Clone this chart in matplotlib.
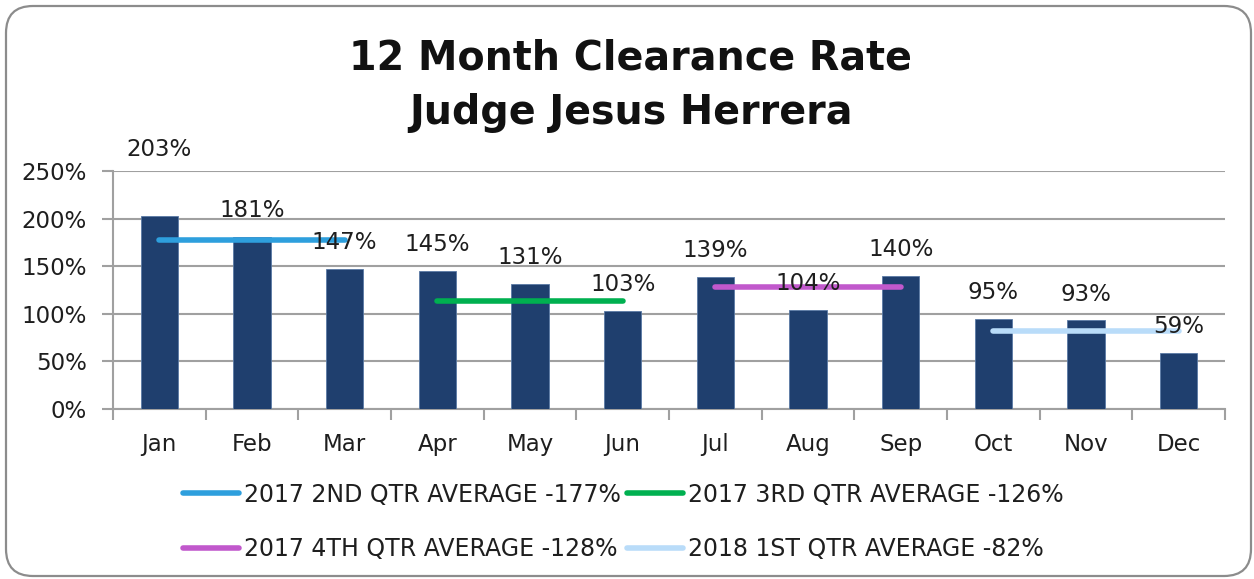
import matplotlib
matplotlib.use("Agg")
import matplotlib.pyplot as plt
import numpy as np
from matplotlib.patches import FancyBboxPatch
from matplotlib.lines import Line2D

months = ["Jan", "Feb", "Mar", "Apr", "May", "Jun", "Jul", "Aug", "Sep", "Oct", "Nov", "Dec"]
rates = [203, 181, 147, 145, 131, 103, 139, 104, 140, 95, 93, 59]

avg_labels = ["2017 2ND QTR AVERAGE -177%", "2017 3RD QTR AVERAGE -126%",
              "2017 4TH QTR AVERAGE -128%", "2018 1ST QTR AVERAGE -82%"]
avg_values = [177, 113, 128, 82]
avg_spans = [("Jan", "Mar"), ("Apr", "Jun"), ("Jul", "Sep"), ("Oct", "Dec")]
avg_colors = ["#2E9FDD", "#00B050", "#C158CC", "#B9DCF9"]

yticks = [0, 50, 100, 150, 200, 250]

W, H = 1254, 579
fig = plt.figure(figsize=(W / 100, H / 100), dpi=100)
plt.rcParams['font.family'] = ['DejaVu Sans']

# rounded outer border
border = FancyBboxPatch((6 / 100, 3 / 100), (W - 9) / 100, (H - 9) / 100,
                        boxstyle="round,pad=0,rounding_size=0.27",
                        transform=fig.dpi_scale_trans, facecolor="none",
                        edgecolor="#8C8C8C", linewidth=1.6, zorder=-1)
fig.patches.append(border)

ax = fig.add_axes([113 / W, 1 - 409 / H, (1225 - 113) / W, (409 - 171) / H])
ax.set_facecolor("none")

x = np.arange(len(months))
ax.bar(x, rates, width=0.4, color="#1F3F6E", edgecolor="#5A7AA5", linewidth=0.6, zorder=3)

grid_c = "#A0A0A0"
txt_c = "#1E1E1E"
fs = 16.5
ax.set_ylim(0, 250)
ax.set_xlim(-0.5, len(months) - 0.5)
ax.set_yticks(yticks)
ax.set_yticklabels([f"{v}%" for v in yticks], fontsize=fs, color=txt_c)
ax.yaxis.grid(True, color=grid_c, linewidth=1.5, zorder=0)
ax.set_axisbelow(True)
ax.tick_params(axis="y", length=8, width=1.5, color=grid_c, pad=11)

ax.set_xticks(x)
ax.set_xticklabels(months, fontsize=fs, color=txt_c)
ax.tick_params(axis="x", which="major", length=0, pad=17)
ax.set_xticks(np.arange(-0.5, len(months), 1), minor=True)
ax.tick_params(axis="x", which="minor", length=8, width=1.5, color=grid_c)

for s in ["top", "right"]:
    ax.spines[s].set_visible(False)
for s in ["left", "bottom"]:
    ax.spines[s].set_color(grid_c)
    ax.spines[s].set_linewidth(1.5)

# data labels
for i, v in enumerate(rates):
    off = 48 if i == 0 else 19
    ax.annotate(f"{v}%", (x[i], v), xytext=(0, off), textcoords="offset points",
                ha="center", va="center", fontsize=fs, color=txt_c,
                annotation_clip=False, zorder=5)

# quarterly averages
handles = []
for lab, val, (a, b), c in zip(avg_labels, avg_values, avg_spans, avg_colors):
    i0, i1 = months.index(a), months.index(b)
    ax.plot([x[i0], x[i1]], [val, val], color=c, linewidth=4, solid_capstyle="round", zorder=4)
    handles.append(Line2D([0], [0], color=c, linewidth=4, solid_capstyle="round"))

order = [0, 2, 1, 3]
fig.legend([handles[i] for i in order], [avg_labels[i] for i in order],
           loc="center", bbox_to_anchor=(0.497, 1 - 522 / H), ncol=2, frameon=False,
           fontsize=17, handlelength=2.4, handletextpad=0.2, columnspacing=0.25,
           labelspacing=1.3, borderaxespad=0)
for t in fig.legends[0].get_texts():
    t.set_color(txt_c)

fig.text(0.503, 1 - 58 / H, "12 Month Clearance Rate", ha="center", va="center",
         fontsize=28.5, fontweight="bold", color="#111111")
fig.text(0.503, 1 - 113 / H, "Judge Jesus Herrera", ha="center", va="center",
         fontsize=28.5, fontweight="bold", color="#111111")

fig.savefig("out.png", dpi=100)
